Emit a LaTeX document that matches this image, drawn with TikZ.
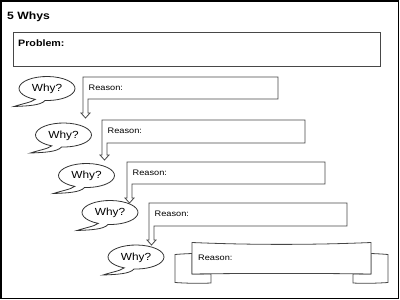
\documentclass[tikz,border=0pt]{standalone}
\usepackage{fontspec}
\setmainfont{Liberation Sans}[FakeStretch=1.15]
\begin{document}
\begin{tikzpicture}[x=1pt,y=-1pt,
  frame/.style={draw=black,line width=1.6pt},
  box/.style={draw=black!72,line width=0.8pt,fill=white,line join=miter},
  bub/.style={draw=black!80,line width=0.8pt,fill=white},
  whytext/.style={inner sep=0pt,font=\fontsize{10.3}{12}\selectfont},
  reasontext/.style={inner sep=0pt,anchor=base west,font=\fontsize{8}{10}\selectfont},
  boldtext/.style={inner sep=0pt,anchor=base west,font=\bfseries}]
\useasboundingbox (0,0) rectangle (400,300);
\fill[white] (0,0) rectangle (400,300);
\draw[frame] (0.8,0.8) rectangle (398.5,298.5);
% title
\node[boldtext,font=\fontsize{10.6}{12}\selectfont\bfseries] (title) at (7,19) {5 Whys};
% problem box
\draw[box] (13,32) rectangle (380,66);
\node[boldtext,font=\fontsize{9.3}{11}\selectfont\bfseries] (problem) at (18,46.5) {Problem:};
% why bubbles
\foreach \cx/\cy/\n in {47/88.5/1, 63.5/135/2, 86.5/175.5/3, 110/212.5/4, 136/257/5}{
  \draw[bub] (\cx-11.83,\cy+10.88) arc[start angle=115, end angle=454, x radius=28, y radius=12]
    .. controls (\cx-6,\cy+17) and (\cx-20,\cy+17.5) .. (\cx-33,\cy+18)
    .. controls (\cx-24,\cy+15) and (\cx-16,\cy+14) .. (\cx-11.83,\cy+10.88) -- cycle;
  \node[whytext] (why\n) at (\cx,\cy+0.5) {Why?};
}
% reason callouts with down arrows
\foreach \xa/\xb/\ya/\yb/\yc/\n in {83/278/77/99/113/1, 102/305/120/143/155/2, 127/325/162/184/198/3, 149/347/203/226/240/4}{
  \draw[box] (\xa,\ya) -- (\xb,\ya) -- (\xb,\yb) -- (\xa+5,\yb) -- (\xa+5,\yc) -- (\xa+7,\yc)
    -- (\xa+2.5,\yc+5) -- (\xa-2,\yc) -- (\xa,\yc) -- cycle;
  \node[reasontext] (reason\n) at (\xa+5.5,\ya+13.3) {Reason:};
}
% final scroll banner
\draw[box] (175,254.5) .. controls (181,254) and (187,253.7) .. (192,253.5) -- (192,274)
  -- (211,274) -- (211,283) .. controls (199,283.6) and (187,283.3) .. (175,282.5) -- cycle;
\draw[box] (388,254.5) .. controls (382,254) and (376,253.7) .. (371,253.5) -- (371,274)
  -- (353,274) -- (353,283) .. controls (364,283.6) and (376,283.3) .. (388,282.5) -- cycle;
\draw[box] (192,242.5) .. controls (250,245) and (313,245) .. (371,242.5)
  -- (371,274) .. controls (313,273.2) and (250,273.2) .. (192,274) -- cycle;
\node[reasontext] (reason5) at (198,260) {Reason:};
\end{tikzpicture}
\end{document}
